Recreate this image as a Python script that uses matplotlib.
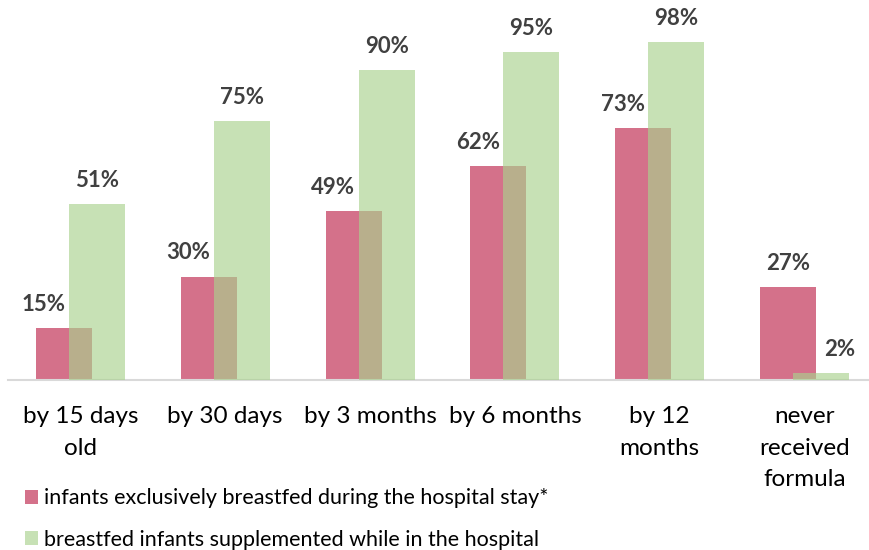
import numpy as np
import matplotlib.pyplot as plt
from matplotlib.patches import Patch

# data
categories = ["by 15 days\nold", "by 30 days", "by 3 months", "by 6 months",
              "by 12\nmonths", "never\nreceived\nformula"]
exclusive = [15, 30, 49, 62, 73, 27]
supplemented = [51, 75, 90, 95, 98, 2]
series_names = ["infants exclusively breastfed during the hospital stay*",
                "breastfed infants supplemented while in the hospital"]

pink = "#D4718A"
green = "#A9D18E"
label_color = "#404040"

plt.rcParams['font.family'] = ['Lato', 'DejaVu Sans']

fig = plt.figure(figsize=(8.7, 5.5), dpi=100)
ax = fig.add_axes([8 / 870, 170 / 550, 862 / 870, 380 / 550])

x = np.arange(len(categories))
w = 0.387
off = 0.114

ax.bar(x - off, exclusive, width=w, color=pink, zorder=2)
ax.bar(x + off, supplemented, width=w, color=green, alpha=0.65, zorder=3)

# labels of the shorter bar are pushed aside so they don't hit the taller one
for xi, v, s in zip(x, exclusive, supplemented):
    lx = xi - off - (0.14 if s > v else 0)
    ax.text(lx, v + 3.8, f"{v}%", ha="center", va="bottom",
            fontsize=16, fontweight="bold", color=label_color)
for xi, v, e in zip(x, supplemented, exclusive):
    lx = xi + off + (0.13 if e > v else 0)
    ax.text(lx, v + 3.8, f"{v}%", ha="center", va="bottom",
            fontsize=16, fontweight="bold", color=label_color)

ax.set_xlim(-0.5, 5.452)
ax.set_ylim(0, 110.2)
ax.set_xticks(x)
ax.set_xticklabels(categories, fontsize=17.5, color="black", linespacing=1.6)
ax.tick_params(axis="x", length=0, pad=19)
ax.set_yticks([])
for s in ["top", "left", "right"]:
    ax.spines[s].set_visible(False)
ax.spines["bottom"].set_color("#D9D9D9")
ax.spines["bottom"].set_linewidth(1.5)

handles = [Patch(facecolor=pink), Patch(facecolor=green, alpha=0.65)]
fig.legend(handles, series_names, loc="upper left",
           bbox_to_anchor=(6 / 870, 1 - 469 / 550), frameon=False,
           fontsize=15.5, handlelength=0.6, handleheight=0.6,
           handletextpad=0.25, labelspacing=1.0)

fig.savefig("out.png", dpi=100)
